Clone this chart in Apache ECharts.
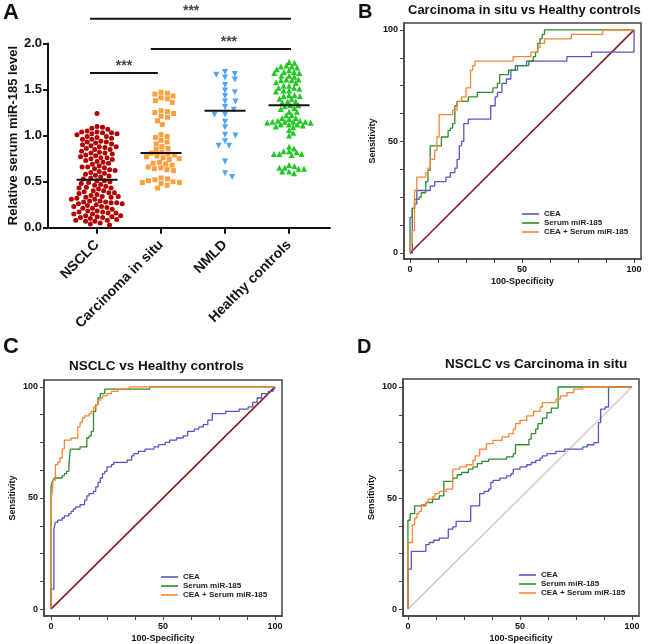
<!DOCTYPE html>
<html>
<head>
<meta charset="utf-8">
<script src="https://cdn.jsdelivr.net/npm/echarts@6/dist/echarts.min.js"></script>
<style>
html,body{margin:0;padding:0;background:#fff}
#main{width:648px;height:644px}
</style>
</head>
<body>
<div id="main"></div>
<script>
// panel A - groups and serum miR-185 values
var groups = ['NSCLC', 'Carcinoma in situ', 'NMLD', 'Healthy controls'];
var nsclc = [1.24,
  1.10,1.09,1.08,1.07,
  1.05,1.04,1.04,1.03,1.03,1.02,1.02,1.01,
  0.99,0.99,0.98,0.97,0.96,0.96,
  0.94,0.93,0.93,0.92,0.91,0.90,
  0.89,0.88,0.88,0.87,0.86,0.85,0.85,
  0.83,0.82,0.81,0.81,0.80,0.79,
  0.78,0.77,0.76,0.76,0.75,0.74,
  0.73,0.72,0.71,0.70,0.69,
  0.67,0.66,0.66,0.65,0.64,0.63,
  0.62,0.61,0.60,0.59,0.58,
  0.57,0.56,0.55,0.54,0.53,
  0.51,0.51,0.50,0.49,0.48,0.47,
  0.46,0.45,0.44,0.43,0.43,0.42,
  0.40,0.40,0.39,0.38,0.38,0.37,0.36,
  0.35,0.34,0.34,0.33,0.33,0.32,0.31,0.31,
  0.29,0.29,0.28,0.28,0.27,0.27,0.26,0.26,0.25,
  0.24,0.23,0.23,0.22,0.21,0.21,0.20,
  0.18,0.18,0.17,0.17,0.16,0.16,0.15,0.15,
  0.13,0.13,0.12,0.12,0.11,0.11,0.10,
  0.09,0.08,0.08,0.07,0.07,
  0.05,0.04,0.03];
var cis = [1.47,1.46,1.45,1.43,1.41,1.40,1.38,1.36,
  1.27,1.26,1.25,1.24,1.21,1.20,1.16,1.12,
  1.01,0.99,0.98,0.95,0.93,0.91,0.88,0.86,0.85,
  0.82,0.81,0.80,0.79,0.78,0.77,0.76,0.75,0.74,
  0.71,0.70,0.69,0.68,0.66,0.65,0.64,0.63,0.62,
  0.54,0.53,0.52,0.51,0.50,0.49,0.49,0.48,0.46,0.43];
var nmld = [1.69,1.67,1.66,1.63,1.61,1.55,1.49,1.47,1.43,1.37,1.37,1.31,1.28,
  1.23,1.23,1.15,1.09,1.01,1.00,0.94,0.89,0.89,0.72,0.59,0.55];
var healthy = [1.80,1.79,1.76,1.75,1.75,1.74,1.72,1.71,1.69,1.69,1.68,1.68,
  1.65,1.65,1.64,1.61,1.61,1.60,1.60,1.58,1.57,1.54,1.54,1.52,1.52,1.51,
  1.49,1.49,1.48,1.44,1.44,1.43,1.43,1.40,1.40,1.37,1.37,1.36,1.33,1.33,1.32,
  1.30,1.29,1.26,1.26,1.22,1.22,1.19,1.19,1.18,
  1.16,1.15,1.15,1.15,1.15,1.14,1.14,1.16,1.12,1.12,1.11,1.12,1.09,1.10,
  1.06,1.03,1.00,0.88,0.86,0.83,0.83,0.82,0.80,0.80,0.80,0.79,
  0.68,0.67,0.65,0.65,0.64,0.64,0.61,0.61,0.59];
var medians = [0.52, 0.81, 1.27, 1.33];

// significance brackets: from group, to group, height, star position
var sigFrom = [0.89, 1.84, 0.89];
var sigTo = [4.03, 4.03, 1.95];
var sigY = [2.27, 1.94, 1.68];
var sigStarX = [2.47, 3.06, 1.42];

// ROC curves [100-specificity, sensitivity]
var rocNames = ['CEA', 'Serum miR-185', 'CEA + Serum miR-185'];
var bCEA = [[0,0],[1,0],[1,20],[2,20],[2,22],[3,22],[3,28],[9,28],[9,30],[11,30],[11,32],[16,32],[16,34],[18,34],[18,36],[20,36],[20,38],[21,38],[21,42],[22,42],[22,48],[23,48],[23,50],[24,50],[24,58],[26,58],[26,60],[36,60],[36,66],[38,66],[38,70],[39,70],[39,72],[41,72],[41,76],[43,76],[43,78],[45,78],[45,82],[47,82],[47,84],[52,84],[52,86],[70,86],[70,88],[81,88],[81,90],[100,90],[100,100]];
var bSerum = [[0,0],[0,16],[1,16],[1,20],[2,20],[2,24],[4,24],[4,25],[5,25],[5,27],[7,27],[7,32],[8,32],[8,37],[9,37],[9,48],[14,48],[14,52],[17,52],[17,55],[18,55],[18,56],[19,56],[19,58],[20,58],[20,66],[21,66],[21,68],[26,68],[26,70],[30,70],[30,72],[37,72],[37,74],[39,74],[39,76],[40,76],[40,80],[44,80],[44,82],[48,82],[48,84],[53,84],[53,86],[55,86],[55,88],[56,88],[56,90],[57,90],[57,94],[58,94],[58,96],[59,96],[59,98],[60,98],[60,100],[100,100]];
var bCombo = [[0,0],[0,4],[1,4],[1,10],[2,10],[2,28],[3,28],[3,34],[7,34],[7,36],[8,36],[8,38],[9,38],[9,42],[11,42],[11,46],[12,46],[12,52],[13,52],[13,62],[19,62],[19,64],[21,64],[21,68],[23,68],[23,70],[25,70],[25,74],[27,74],[27,82],[28,82],[28,84],[29,84],[29,86],[46,86],[46,88],[54,88],[54,90],[57,90],[57,92],[58,92],[58,94],[60,94],[60,96],[72,96],[72,98],[86,98],[86,100],[100,100]];
var cCEA = [[0,0],[0,9],[1.3,9],[1.3,36],[2,36],[2,39],[3,39],[3,40],[5,40],[5,41],[6,41],[6,42],[8,42],[8,43],[9,43],[9,44],[10,44],[10,45],[11,45],[11,46],[13,46],[13,47],[15,47],[15,49],[16,49],[16,51],[17,51],[17,52],[19,52],[19,53],[20,53],[20,55],[21,55],[21,57],[22,57],[22,59],[23,59],[23,61],[24,61],[24,62],[25,62],[25,64],[27,64],[27,65],[28,65],[28,66],[34,66],[34,67],[36,67],[36,69],[37,69],[37,70],[39,70],[39,71],[42,71],[42,72],[46,72],[46,73],[48,73],[48,74],[51,74],[51,75],[53,75],[53,76],[56,76],[56,77],[59,77],[59,78],[61,78],[61,80],[64,80],[64,81],[66,81],[66,82],[68,82],[68,83],[70,83],[70,85],[72,85],[72,88],[78,88],[78,89],[84,89],[84,90],[88,90],[88,91],[90,91],[90,93],[92,93],[92,95],[94,95],[94,97],[97,97],[97,98],[99,98],[100,100]];
var cSerum = [[0,0],[0,55],[0.5,55],[0.5,57],[1,57],[1,58],[1.5,58],[1.5,59],[5,59],[5,60],[6,60],[6,61],[7,61],[7,62],[8,62],[8,64],[8.5,64],[8.5,71],[9,71],[9,72],[13,72],[13,73],[16,73],[16,77],[17,77],[17,78],[18,78],[18,80],[19,80],[19,89],[20,89],[20,92],[21,92],[21,95],[22,95],[22,97],[24,97],[24,99],[44,99],[44,100],[100,100]];
var cCombo = [[0,0],[0,50],[0.5,50],[0.5,52],[1,52],[1,58],[2,58],[2,65],[3,65],[3,66],[4,66],[4,68],[5,68],[5,72],[6,72],[6,76],[9,76],[9,77],[12,77],[12,82],[13,82],[13,84],[14,84],[14,86],[15,86],[15,87],[17,87],[17,88],[18,88],[18,89],[19,89],[19,91],[20,91],[20,92],[21,92],[21,94],[22,94],[22,95],[23,95],[23,96],[25,96],[25,97],[27,97],[27,98],[30,98],[30,99],[35,99],[35,100],[100,100]];
var dCEA = [[0,0],[0,18],[1.5,18],[1.5,26],[8,26],[8,29],[9.5,29],[9.5,30],[11.5,30],[11.5,31],[14,31],[14,32],[18,32],[18,36],[20,36],[20,37],[21.5,37],[21.5,39.5],[28,39.5],[28,46.5],[32,46.5],[32,52],[34,52],[34,53],[36,53],[36,54],[37,54],[37,57],[38,57],[38,58],[41,58],[41,59],[44,59],[44,60],[46,60],[46,61],[47,61],[47,63],[50,63],[50,64],[53,64],[53,65],[55,65],[55,66],[57,66],[57,67],[59,67],[59,68],[60,68],[60,69],[62,69],[62,70],[66,70],[66,71],[70,71],[70,72],[78,72],[78,73],[80,73],[80,74],[83,74],[83,75],[85,75],[85,84],[86,84],[86,90],[88,90],[88,91],[89.5,91],[89.5,100],[100,100]];
var dSerum = [[0,0],[0,40],[1,40],[1,43],[3,43],[3,46.5],[8,46.5],[8,48],[11,48],[11,49.5],[14,49.5],[14,51],[16,51],[16,57.5],[20,57.5],[20,59],[22,59],[22,60.5],[24,60.5],[24,61.5],[27,61.5],[27,63],[29,63],[29,64],[31,64],[31,65.5],[33,65.5],[33,66.5],[36,66.5],[36,67.5],[44,67.5],[44,68.5],[47,68.5],[47,70],[48,70],[48,74],[54,74],[54,76.5],[55,76.5],[55,79],[57,79],[57,81],[58,81],[58,83.5],[60,83.5],[60,86],[62,86],[62,88.5],[64,88.5],[64,90.5],[67,90.5],[67,100],[100,100]];
var dCombo = [[0,0],[0,30],[2,30],[2,38],[3,38],[3,41],[4,41],[4,43],[5,43],[5,44],[6,44],[6,47],[8,47],[8,48],[9,48],[9,49.5],[11,49.5],[11,50.5],[12,50.5],[12,52],[14,52],[14,53],[17,53],[17,54],[20,54],[20,63],[23,63],[23,64],[26,64],[26,65],[29,65],[29,67],[30,67],[30,69],[32,69],[32,72],[35,72],[35,74.5],[38,74.5],[38,76],[42,76],[42,77.5],[45,77.5],[45,79],[47,79],[47,81],[48,81],[48,83.5],[50,83.5],[50,85],[53,85],[53,87],[56,87],[56,89],[59,89],[59,91],[60,91],[60,93],[66,93],[66,94.5],[68,94.5],[68,96],[71,96],[71,97.5],[74,97.5],[74,99],[78,99],[78,100],[100,100]];
var diagonal = [[0,0],[100,100]];
var rocTicks = [0,12.5,25,37.5,50,62.5,75,87.5,100];
var rocLabels = [0,50,100];

var FONT = 'Liberation Sans, Arial, sans-serif';
var rocColors = ['#5656c8', '#2e8b2e', '#ff8433'];
var groupColors = ['#b00000', '#ffa040', '#4da6f5', '#22c822'];
var groupSymbols = ['circle', 'rect', 'path://M0,0 L10,0 L5,9 Z', 'triangle'];
var groupSizes = [5, 5, 6, 6];

var myChart = echarts.init(document.getElementById('main'));

function rocAxisX(gi, min, max) {
  return {
    gridIndex: gi, type: 'value', min: min, max: max,
    axisLine: {show: true, onZero: false, lineStyle: {color: '#444', width: 1.5}},
    axisTick: {show: true, customValues: rocTicks, length: 4, lineStyle: {color: '#444'}},
    axisLabel: {customValues: rocLabels, fontSize: 9, fontWeight: 'bold', color: '#111', margin: 6, fontFamily: FONT},
    splitLine: {show: false},
    name: '100-Specificity', nameLocation: 'middle', nameGap: 18,
    nameTextStyle: {fontSize: 9, fontWeight: 'bold', color: '#111', fontFamily: FONT}
  };
}
function rocAxisY(gi, min, max) {
  return {
    gridIndex: gi, type: 'value', min: min, max: max,
    axisLine: {show: true, onZero: false, lineStyle: {color: '#444', width: 1.5}},
    axisTick: {show: true, customValues: rocTicks, length: 4, lineStyle: {color: '#444'}},
    axisLabel: {customValues: rocLabels, fontSize: 9, fontWeight: 'bold', color: '#111', margin: 6, fontFamily: FONT},
    splitLine: {show: false},
    name: 'Sensitivity', nameLocation: 'middle', nameGap: 27,
    nameTextStyle: {fontSize: 9, fontWeight: 'bold', color: '#111', fontFamily: FONT}
  };
}
function rocSeries(gi, curves, diagColor) {
  var out = [];
  out.push({
    type: 'line', name: 'diag', xAxisIndex: gi, yAxisIndex: gi, data: diagonal,
    symbol: 'none', silent: true, lineStyle: {color: diagColor, width: 1.6}, z: 1
  });
  for (var i = 0; i < 3; i++) {
    out.push({
      type: 'line', name: rocNames[i], xAxisIndex: gi, yAxisIndex: gi, data: curves[i],
      symbol: 'none', lineStyle: {color: rocColors[i], width: 1.3}, itemStyle: {color: rocColors[i]}, z: 2 + i
    });
  }
  return out;
}
function rocLegend(left, top) {
  return {
    data: rocNames, orient: 'vertical', left: left, top: top,
    icon: 'rect', itemWidth: 17, itemHeight: 1.6, itemGap: 1, selectedMode: false,
    textStyle: {fontSize: 8, fontWeight: 'bold', color: '#222', fontFamily: FONT}
  };
}
function bigTitle(text, left, top, size) {
  return {text: text, left: left, top: top, padding: 0,
    textStyle: {fontSize: size, fontWeight: 'bold', color: '#111', fontFamily: FONT}};
}

var series = [];
// scatter groups (x positions filled after layout)
for (var g = 0; g < 4; g++) {
  series.push({
    id: 'grp' + g, type: 'scatter', xAxisIndex: 0, yAxisIndex: 0, data: [],
    symbol: groupSymbols[g], symbolSize: groupSizes[g],
    itemStyle: {color: groupColors[g], opacity: 1}, z: 2
  });
  series.push({
    type: 'line', xAxisIndex: 0, yAxisIndex: 0, symbol: 'none', z: 5,
    data: [[g + 1 - 0.32, medians[g]], [g + 1 + 0.32, medians[g]]],
    lineStyle: {color: '#111', width: 2}
  });
}
for (var s = 0; s < sigY.length; s++) {
  series.push({
    type: 'line', xAxisIndex: 0, yAxisIndex: 0, symbol: 'none', clip: false,
    data: [[sigFrom[s], sigY[s]], [sigTo[s], sigY[s]]],
    lineStyle: {color: '#111', width: 2}
  });
  series.push({
    type: 'scatter', xAxisIndex: 0, yAxisIndex: 0, symbolSize: 0, clip: false,
    data: [[sigStarX[s], sigY[s]]],
    label: {show: true, position: 'top', distance: 0, formatter: '***', fontSize: 14, fontWeight: 'bold', color: '#111', fontFamily: FONT}
  });
}
series = series.concat(rocSeries(1, [bCEA, bSerum, bCombo], '#8b1a1a'));
series = series.concat(rocSeries(2, [cCEA, cSerum, cCombo], '#8b1a1a'));
series = series.concat(rocSeries(3, [dCEA, dSerum, dCombo], '#e3c6c6'));

var option = {
  animation: false,
  backgroundColor: '#fff',
  textStyle: {fontFamily: FONT},
  title: [
    bigTitle('A', 3, 2, 22),
    bigTitle('B', 358, 2, 20),
    bigTitle('C', 3, 336, 22),
    bigTitle('D', 357, 337, 20),
    bigTitle('Carcinoma in situ vs Healthy controls', 408, 4, 13),
    bigTitle('NSCLC vs Healthy controls', 69, 359, 13.5),
    bigTitle('NSCLC vs Carcinoma in situ', 445, 357, 13.5)
  ],
  legend: [rocLegend(517, 205), rocLegend(156, 568), rocLegend(514, 566)],
  grid: [
    {left: 48, top: 43.5, width: 282, height: 184.2},
    {left: 404, top: 23, width: 237, height: 236, show: true, borderColor: '#444', borderWidth: 1.5},
    {left: 44, top: 380, width: 238, height: 238, show: true, borderColor: '#444', borderWidth: 1.5},
    {left: 403, top: 379, width: 236, height: 238, show: true, borderColor: '#444', borderWidth: 1.5}
  ],
  xAxis: [
    {
      gridIndex: 0, type: 'value', min: 0.234, max: 4.64,
      axisLine: {lineStyle: {color: '#111', width: 2}},
      axisTick: {customValues: [1, 2, 3, 4], length: 6, lineStyle: {color: '#111', width: 2}},
      axisLabel: {
        customValues: [1, 2, 3, 4], rotate: 45, margin: 15,
        fontSize: 14, fontWeight: 'bold', color: '#111', fontFamily: FONT,
        formatter: function (v) { return groups[Math.round(v) - 1]; }
      },
      splitLine: {show: false}
    },
    rocAxisX(1, -2.7, 103.1),
    rocAxisX(2, -3.1, 103.1),
    rocAxisX(3, -2.2, 103.1)
  ],
  yAxis: [
    {
      gridIndex: 0, type: 'value', min: 0, max: 2, interval: 0.5,
      axisLine: {show: true, lineStyle: {color: '#111', width: 2}},
      axisTick: {show: true, length: 5, lineStyle: {color: '#111', width: 2}},
      axisLabel: {fontSize: 13, fontWeight: 'bold', color: '#111', margin: 6, fontFamily: FONT,
        formatter: function (v) { return v.toFixed(1); }},
      splitLine: {show: false},
      name: 'Relative serum miR-185 level', nameLocation: 'middle', nameGap: 26,
      nameTextStyle: {fontSize: 13, fontWeight: 'bold', color: '#111', fontFamily: FONT}
    },
    rocAxisY(1, -2.7, 103.1),
    rocAxisY(2, -3.1, 103.1),
    rocAxisY(3, -3.1, 103.6)
  ],
  series: series
};
myChart.setOption(option);

// spread the points of each group sideways so they do not overlap (dot plot layout)
// dw = horizontal spacing, dh = vertical spacing, in pixels
function swarm(vals, cat, dw, dh) {
  var p0 = myChart.convertToPixel({gridIndex: 0}, [cat, 0]);
  var p1 = myChart.convertToPixel({gridIndex: 0}, [cat + 1, 0]);
  var unit = p1[0] - p0[0];
  var k = dw / dh;
  var pts = vals.map(function (v) {
    return {v: v, y: myChart.convertToPixel({gridIndex: 0}, [cat, v])[1] * k, x: 0};
  });
  pts.sort(function (a, b) { return a.y - b.y; });
  var d = dw;
  var placed = [];
  pts.forEach(function (p) {
    var near = placed.filter(function (q) { return Math.abs(q.y - p.y) < d; });
    var cands = [0];
    near.forEach(function (q) {
      var w = Math.sqrt(d * d - (q.y - p.y) * (q.y - p.y));
      cands.push(q.x + w, q.x - w);
    });
    cands.sort(function (a, b) { return Math.abs(a) - Math.abs(b); });
    for (var i = 0; i < cands.length; i++) {
      var c = cands[i];
      var ok = near.every(function (q) {
        return (q.x - c) * (q.x - c) + (q.y - p.y) * (q.y - p.y) >= d * d - 0.01;
      });
      if (ok) { p.x = c; break; }
    }
    placed.push(p);
  });
  return placed.map(function (p) { return [cat + p.x / unit, p.v]; });
}

var allGroups = [nsclc, cis, nmld, healthy];
var spacing = [[5.6, 5], [6.5, 5.5], [10.5, 5], [5.5, 4.2]];
myChart.setOption({
  series: allGroups.map(function (vals, i) {
    return {id: 'grp' + i, data: swarm(vals, i + 1, spacing[i][0], spacing[i][1])};
  })
});
</script>
</body>
</html>
